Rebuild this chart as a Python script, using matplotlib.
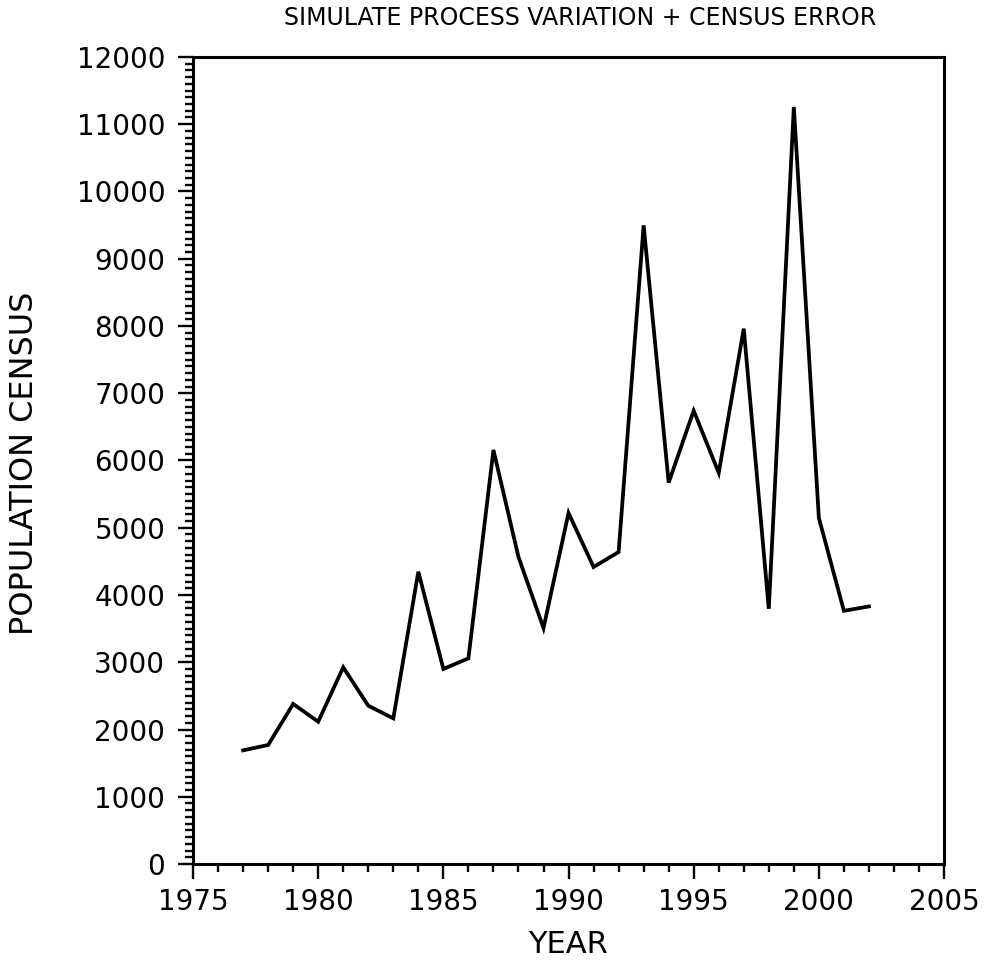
import matplotlib
matplotlib.use("Agg")
import matplotlib.pyplot as plt
from matplotlib.ticker import MultipleLocator

# census series, one value per year
years = [1977, 1978, 1979, 1980, 1981, 1982, 1983, 1984, 1985, 1986,
         1987, 1988, 1989, 1990, 1991, 1992, 1993, 1994, 1995, 1996,
         1997, 1998, 1999, 2000, 2001, 2002]
census = [1690, 1770, 2380, 2116, 2925, 2354, 2166, 4347, 2900, 3058,
          6156, 4565, 3509, 5219, 4416, 4639, 9496, 5671, 6740, 5817,
          7960, 3795, 11257, 5145, 3765, 3830]

xticks = [1975, 1980, 1985, 1990, 1995, 2000, 2005]
yticks = list(range(0, 12001, 1000))

plt.rcParams["font.family"] = ["DejaVu Sans"]

fig = plt.figure(figsize=(9.91, 9.67), dpi=100)
ax = fig.add_axes([0.1948, 0.1065, 0.7578, 0.8346])

ax.plot(years, census, color="black", lw=2.7, solid_joinstyle="miter")

ax.set_xlim(1975, 2005)
ax.set_ylim(0, 12000)
ax.set_xticks(xticks)
ax.set_yticks(yticks)
ax.xaxis.set_minor_locator(MultipleLocator(1))
ax.yaxis.set_minor_locator(MultipleLocator(100))

for s in ax.spines.values():
    s.set_linewidth(2.2)

ax.tick_params(which="major", direction="out", length=11, width=1.7,
               labelsize=20, colors="black")
ax.tick_params(axis="x", which="major", pad=6)
ax.tick_params(axis="y", which="major", pad=9)
ax.tick_params(which="minor", direction="out", length=6, width=1.7)

ax.set_xlabel("YEAR", fontsize=22)
ax.set_ylabel("POPULATION CENSUS", fontsize=23)
ax.xaxis.label.set_va("center")
ax.yaxis.label.set_va("center")
ax.xaxis.set_label_coords(0.5, -0.100)
ax.yaxis.set_label_coords(-0.224, 0.496)

fig.text(0.585, 0.981, "SIMULATE PROCESS VARIATION + CENSUS ERROR",
         ha="center", va="center", fontsize=17)

fig.savefig("out.png", dpi=100)
